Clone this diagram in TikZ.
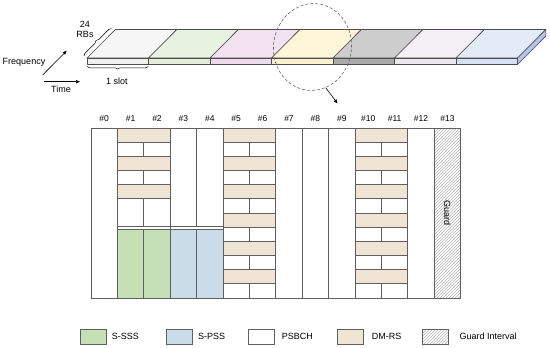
\documentclass[tikz,border=0pt]{standalone}
\usepackage{fontspec}
\setmainfont{Liberation Sans}
\usetikzlibrary{arrows.meta,positioning,shapes.geometric,decorations.pathreplacing,patterns}
\definecolor{sssgreen}{RGB}{197,224,180}
\definecolor{pssblue}{RGB}{201,220,232}
\definecolor{dmtan}{RGB}{240,228,212}
\definecolor{gridgray}{RGB}{95,95,95}
\definecolor{slabA}{RGB}{246,246,246}
\definecolor{slabAf}{RGB}{240,240,240}
\definecolor{slabB}{RGB}{232,242,225}
\definecolor{slabBf}{RGB}{226,238,218}
\definecolor{slabC}{RGB}{243,227,241}
\definecolor{slabCf}{RGB}{238,218,235}
\definecolor{slabD}{RGB}{255,246,218}
\definecolor{slabDf}{RGB}{252,240,208}
\definecolor{slabE}{RGB}{205,205,205}
\definecolor{slabEf}{RGB}{170,170,170}
\definecolor{slabF}{RGB}{244,240,246}
\definecolor{slabFf}{RGB}{236,232,240}
\definecolor{slabG}{RGB}{227,234,248}
\definecolor{slabGf}{RGB}{214,224,244}
\definecolor{slabside}{RGB}{180,196,234}
\tikzset{
  txt/.style={font=\fontsize{9}{10}\selectfont, inner sep=1pt},
  collabel/.style={font=\fontsize{8.5}{10}\selectfont, inner sep=0pt},
  slabline/.style={draw=black!70, line width=0.6pt, line join=round},
  gridline/.style={draw=gridgray, line width=0.7pt},
  dmcell/.style={gridline, fill=dmtan},
  whitecell/.style={gridline, fill=white},
  ssscell/.style={gridline, fill=sssgreen},
  psscell/.style={gridline, fill=pssblue},
  guardcell/.style={gridline, pattern=north east lines, pattern color=black!30},
  legbox/.style={draw=gridgray, line width=0.7pt, minimum width=26pt, minimum height=15pt, inner sep=0pt},
  axisarrow/.style={-{Triangle[length=4pt,width=3.2pt]}, line width=0.6pt},
  bracebar/.style={decorate, decoration={brace, amplitude=2.5pt}, line width=0.5pt}
}
\begin{document}
\begin{tikzpicture}[x=1pt, y=-1pt]
  \useasboundingbox (0,0) rectangle (550,348);

  % frame strip
  \foreach \topc/\frontc [count=\i from 0] in {slabA/slabAf, slabB/slabBf, slabC/slabCf, slabD/slabDf, slabE/slabEf, slabF/slabFf, slabG/slabGf}{
    \pgfmathsetmacro\xa{87+61.5*\i}
    \pgfmathsetmacro\xb{\xa+61.5}
    \filldraw[slabline, fill=\topc] (\xa,58) -- (\xb,58) -- (\xb+28.4,29.5) -- (\xa+28.4,29.5) -- cycle;
    \filldraw[slabline, fill=\frontc] (\xa,58) rectangle (\xb,64.5);
  }
  \filldraw[slabline, fill=slabside] (517.5,58) -- (545.9,29.5) -- (545.9,36) -- (517.5,64.5) -- cycle;

  \draw[bracebar] (84,56) -- (111.5,28.5);
  \node[txt, align=center] (rbs) at (85,29.5) {24\\RBs};
  \draw[bracebar] (148.3,66.5) -- (87,66.5);
  \node[txt] (slot) at (117,81) {1 slot};

  % axes
  \node[txt] (freq) at (24,62) {Frequency};
  \coordinate (fa) at (42.7,75);
  \coordinate (fb) at (66.7,50.7);
  \draw[axisarrow] (fa) -- (fb);
  \coordinate (ta) at (44,81.7);
  \coordinate (tb) at (80,81.7);
  \draw[axisarrow] (ta) -- (tb);
  \node[txt] (time) at (61,89.5) {Time};

  % zoom marker
  \node[draw=black!60, dash pattern=on 3pt off 2pt, line width=0.6pt, ellipse, minimum width=78pt, minimum height=87pt, rotate=-8] (zoomell) at (312.5,47) {};
  \coordinate (zoomend) at (337.5,103.5);
  \draw[axisarrow] (zoomell.-64) -- (zoomend);

  % symbol labels
  \foreach \i in {0,...,13}
    \node[collabel] (c\i) at (91+26.4*\i+13.2,119) {\#\i};

  % DM-RS columns #5-#6 and #10-#11
  \foreach \c in {5,10}{
    \foreach \r in {0,...,11}{
      \ifodd\r
        \draw[whitecell] (91+26.4*\c,128+14.1667*\r) rectangle (91+26.4*\c+52.8,128+14.1667*\r+14.1667);
        \draw[gridline] (91+26.4*\c+26.4,128+14.1667*\r) -- (91+26.4*\c+26.4,128+14.1667*\r+14.1667);
      \else
        \draw[dmcell] (91+26.4*\c,128+14.1667*\r) rectangle (91+26.4*\c+52.8,128+14.1667*\r+14.1667);
      \fi
    }
  }

  % columns #1-#2 upper part
  \foreach \r in {0,2,4}
    \draw[dmcell] (117.4,128+14.1667*\r) rectangle (170.2,128+14.1667*\r+14.1667);
  \foreach \r in {1,3}
    \draw[whitecell] (117.4,128+14.1667*\r) rectangle (170.2,128+14.1667*\r+14.1667);
  \draw[whitecell] (117.4,198.8) rectangle (170.2,226);
  \draw[gridline] (143.8,142.2) -- (143.8,156.3) (143.8,170.5) -- (143.8,184.7) (143.8,198.8) -- (143.8,226);

  % columns #3-#4 upper part
  \draw[whitecell] (170.2,128) rectangle (223,226);
  \draw[gridline] (196.6,128) -- (196.6,226);
  \draw[gridline] (117.4,226) -- (223,226);

  % S-SSS and S-PSS
  \draw[ssscell] (117.4,229.5) rectangle (143.8,298);
  \draw[ssscell] (143.8,229.5) rectangle (170.2,298);
  \draw[psscell] (170.2,229.5) rectangle (196.6,298);
  \draw[psscell] (196.6,229.5) rectangle (223,298);

  % guard symbol
  \draw[guardcell] (434.2,128) rectangle (460.6,298);
  \node[txt, rotate=-90] (guard) at (447.4,213) {Guard};

  % grid lines
  \foreach \i in {1,3,5,7,8,9,10,12,13}
    \draw[gridline] (91+26.4*\i,128) -- (91+26.4*\i,298);
  \draw[gridline] (91,128) rectangle (460.6,298);

  % legend
  \foreach \sty/\bx/\tx/\lab [count=\k] in {ssscell/93/111.7/S-SSS, psscell/179.7/198/S-PSS, whitecell/261.3/281.7/PSBCH, dmcell/350.7/371.7/DM-RS, guardcell/435.7/459.3/Guard Interval}{
    \node[legbox, \sty] (lb\k) at (\bx,336.7) {};
    \node[txt, anchor=west, inner sep=0pt] (lt\k) at (\tx,336.7) {\lab};
  }
\end{tikzpicture}
\end{document}
